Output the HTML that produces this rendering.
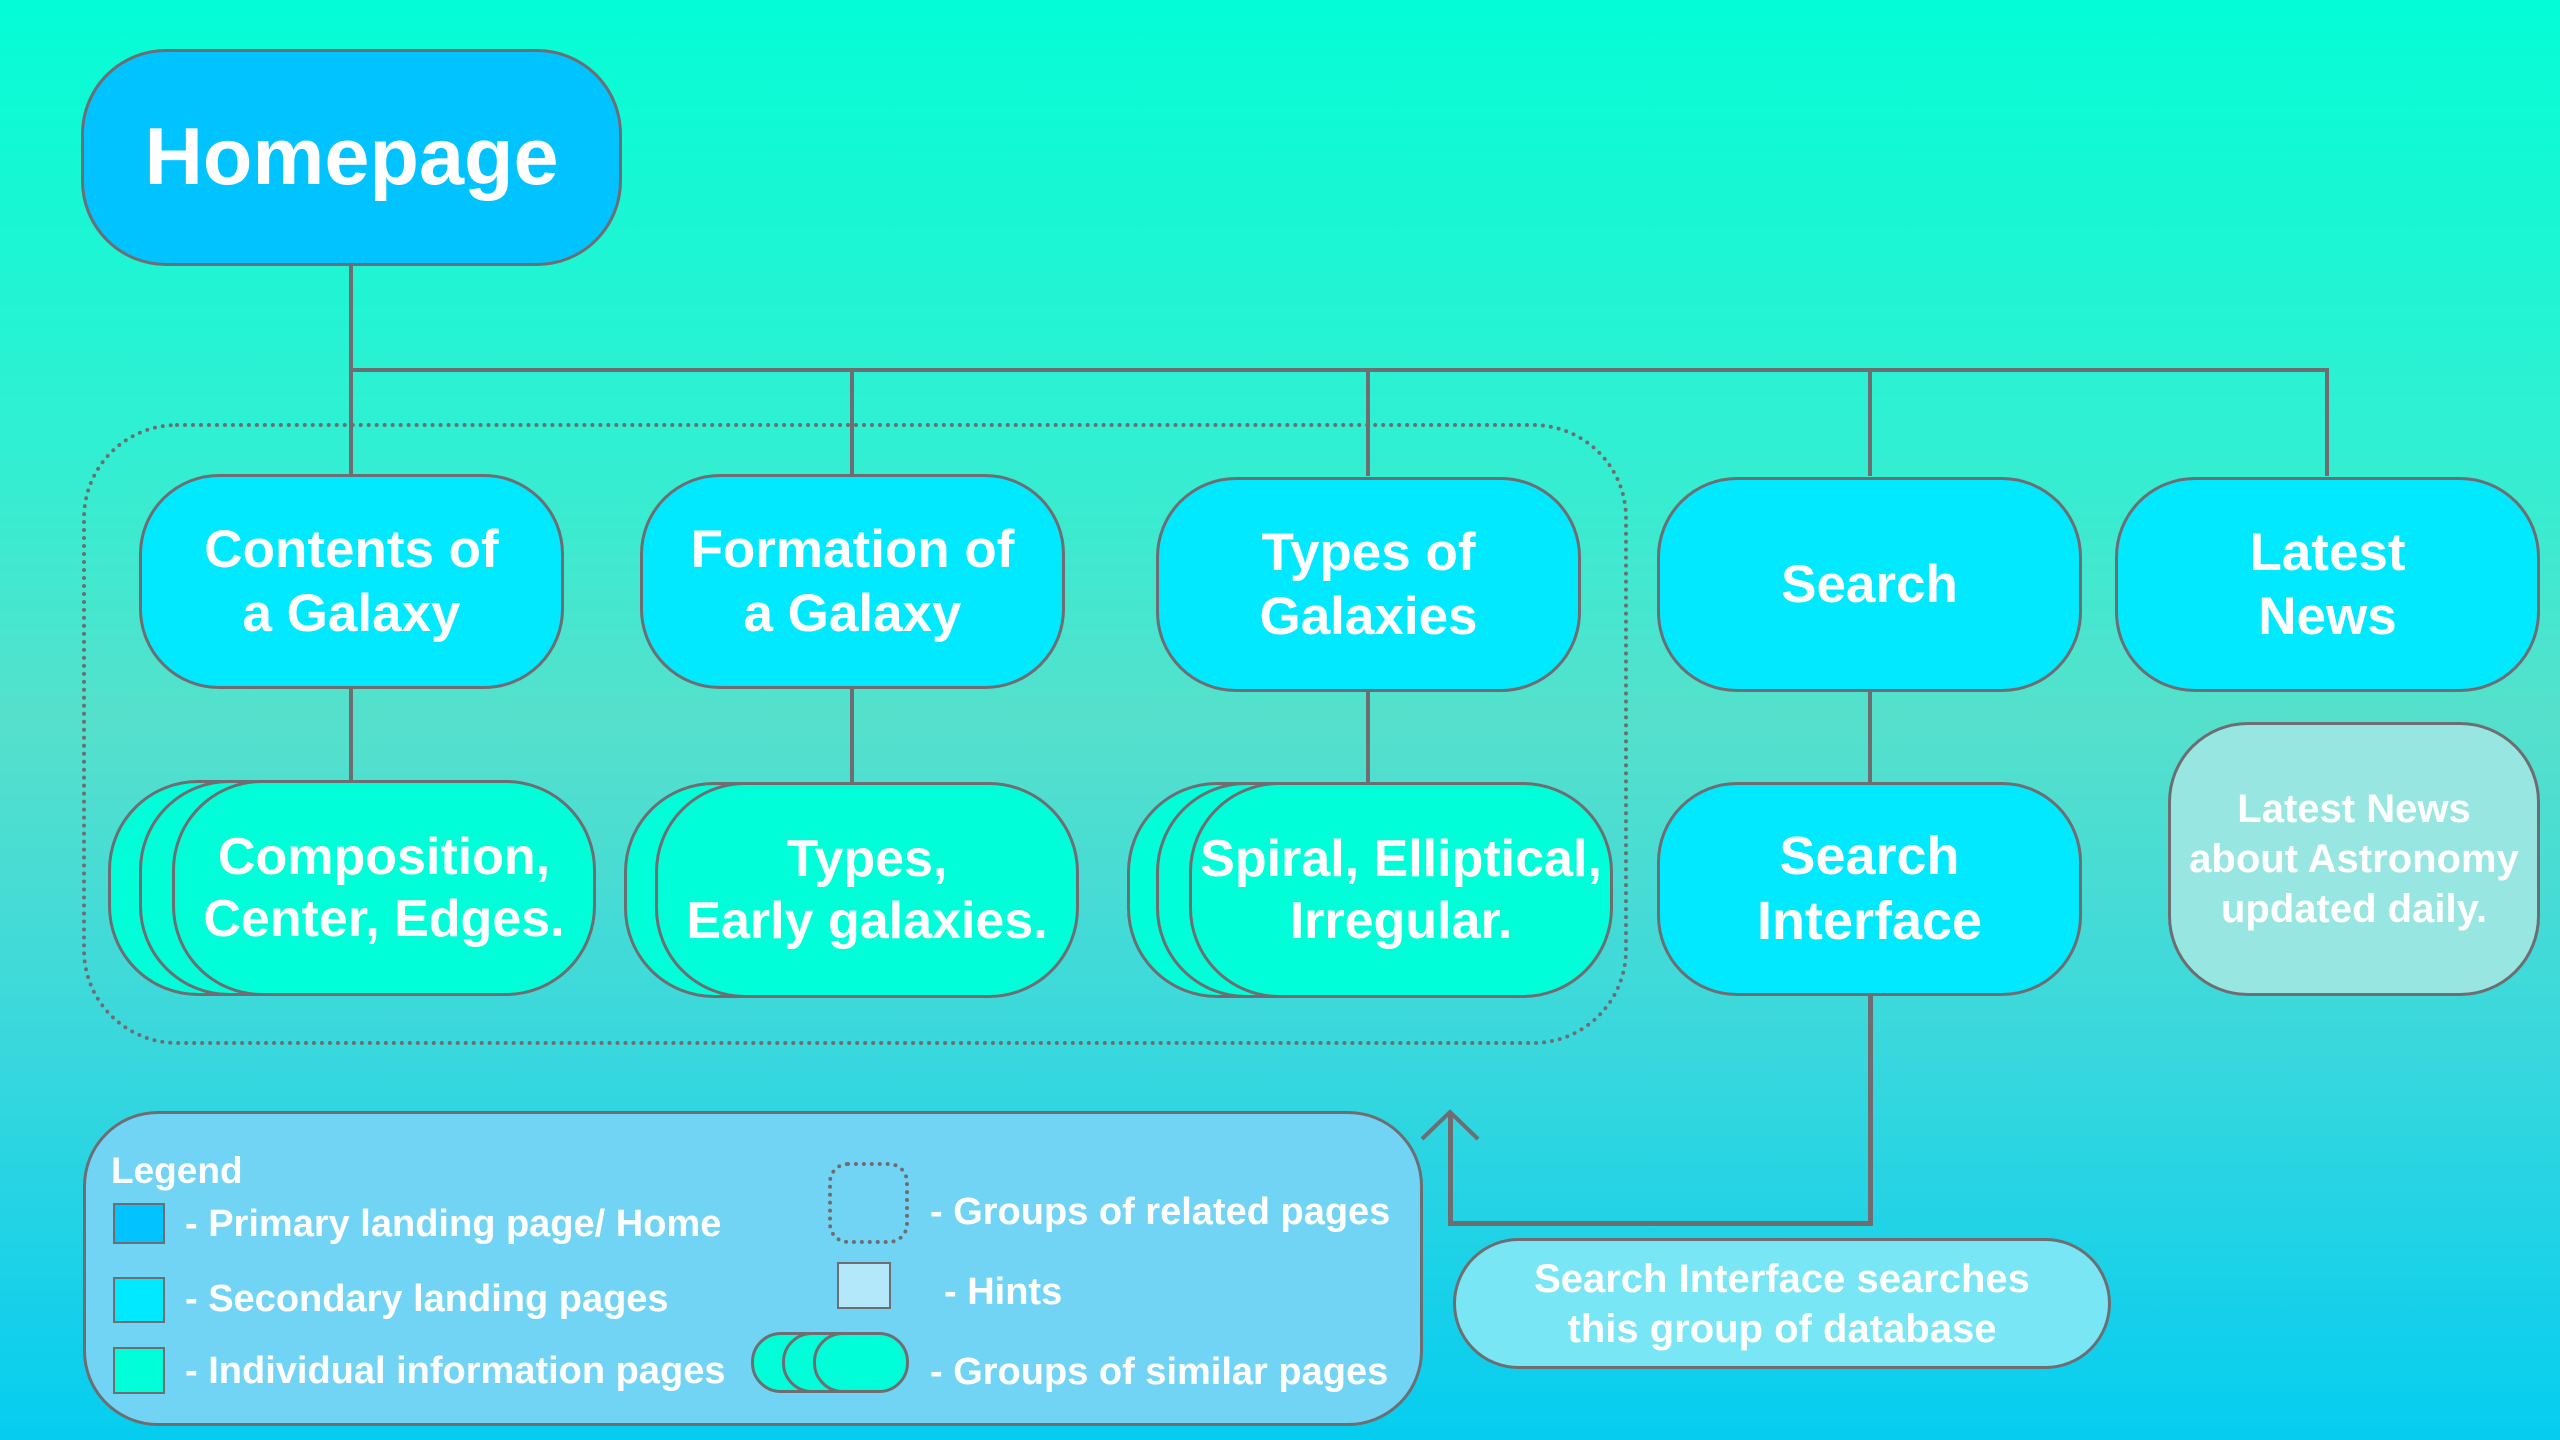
<!DOCTYPE html>
<html><head><meta charset="utf-8"><style>
*{margin:0;padding:0;box-sizing:border-box}
body{width:2560px;height:1440px;overflow:hidden;position:relative;font-family:"Liberation Sans",Arial,sans-serif;font-weight:bold;color:#fff;
background:linear-gradient(180deg,#04fdd6 0%,#2ff0d2 30%,#55e0cc 50%,#3ad8dc 72%,#05cdf0 100%)}
.b{position:absolute;display:flex;align-items:center;justify-content:center;text-align:center;border:3px solid #6e6e72;line-height:1.2}
.p{background:#00c3ff}
.s{background:#00e9ff;border-radius:80px;font-size:53px}
.t{background:#00ffd8;border-radius:90px;font-size:52px}
.l{position:absolute;background:#6e6e72}
.lt{position:absolute;font-size:38px;white-space:nowrap;line-height:1}
</style></head><body>
<div style="position:absolute;left:82px;top:423px;width:1546px;height:622px;border:4px dotted #6e6e72;border-radius:95px"></div>

<div class="l" style="left:349px;top:260px;width:4px;height:216px"></div>
<div class="l" style="left:349px;top:368px;width:1980px;height:4px"></div>
<div class="l" style="left:850px;top:368px;width:4px;height:108px"></div>
<div class="l" style="left:1366px;top:368px;width:4px;height:108px"></div>
<div class="l" style="left:1868px;top:368px;width:4px;height:108px"></div>
<div class="l" style="left:2325px;top:368px;width:4px;height:108px"></div>
<div class="l" style="left:349px;top:680px;width:4px;height:105px"></div>
<div class="l" style="left:850px;top:680px;width:4px;height:105px"></div>
<div class="l" style="left:1366px;top:680px;width:4px;height:105px"></div>
<div class="l" style="left:1868px;top:680px;width:4px;height:105px"></div>
<div class="l" style="left:1868px;top:990px;width:5px;height:235px"></div>
<div class="l" style="left:1448px;top:1221px;width:425px;height:5px"></div>
<div class="l" style="left:1448px;top:1114px;width:5px;height:110px"></div>
<svg style="position:absolute;left:0;top:0" width="2560" height="1440"><polyline points="1422,1139 1450,1112 1478,1139" fill="none" stroke="#6e6e72" stroke-width="4"/></svg>

<div class="b p" style="left:81px;top:49px;width:541px;height:217px;border-radius:85px;font-size:81px">Homepage</div>

<div class="b s" style="left:139px;top:474px;width:425px;height:215px">Contents of<br>a Galaxy</div>
<div class="b s" style="left:640px;top:474px;width:425px;height:215px">Formation of<br>a Galaxy</div>
<div class="b s" style="left:1156px;top:477px;width:425px;height:215px">Types of<br>Galaxies</div>
<div class="b s" style="left:1657px;top:477px;width:425px;height:215px">Search</div>
<div class="b s" style="left:2115px;top:477px;width:425px;height:215px">Latest<br>News</div>

<div class="b t" style="left:108px;top:780px;width:424px;height:216px"></div>
<div class="b t" style="left:139px;top:780px;width:424px;height:216px"></div>
<div class="b t" style="left:172px;top:780px;width:424px;height:216px">Composition,<br>Center, Edges.</div>
<div class="b t" style="left:624px;top:782px;width:424px;height:216px"></div>
<div class="b t" style="left:655px;top:782px;width:424px;height:216px">Types,<br>Early galaxies.</div>
<div class="b t" style="left:1127px;top:782px;width:424px;height:216px"></div>
<div class="b t" style="left:1156px;top:782px;width:424px;height:216px"></div>
<div class="b t" style="left:1189px;top:782px;width:424px;height:216px">Spiral, Elliptical,<br>Irregular.</div>
<div class="b s" style="left:1657px;top:782px;width:425px;height:214px;font-size:54px">Search<br>Interface</div>
<div class="b" style="left:2168px;top:722px;width:372px;height:274px;border-radius:80px;background:#98e6e2;font-size:40px;line-height:1.25">Latest News<br>about Astronomy<br>updated daily.</div>

<div class="b" style="left:1453px;top:1238px;width:658px;height:131px;border-radius:66px;background:#78e6f4;font-size:40px;line-height:1.25">Search Interface searches<br>this group of database</div>

<div style="position:absolute;left:83px;top:1111px;width:1340px;height:315px;border:3px solid #6e6e72;border-radius:75px;background:#72d4f5"></div>
<div class="lt" style="left:111px;top:1152px;font-size:37px">Legend</div>
<div style="position:absolute;left:113px;top:1203px;width:52px;height:41px;background:#00c3ff;border:2px solid #6e6e72"></div>
<div style="position:absolute;left:113px;top:1277px;width:52px;height:46px;background:#00e9ff;border:2px solid #6e6e72"></div>
<div style="position:absolute;left:113px;top:1347px;width:52px;height:47px;background:#00ffd8;border:2px solid #6e6e72"></div>
<div class="lt" style="left:185px;top:1205px">- Primary landing page/ Home</div>
<div class="lt" style="left:185px;top:1280px">- Secondary landing pages</div>
<div class="lt" style="left:185px;top:1352px">- Individual information pages</div>
<div style="position:absolute;left:828px;top:1162px;width:81px;height:82px;border:4px dotted #6e6e72;border-radius:20px"></div>
<div style="position:absolute;left:837px;top:1262px;width:54px;height:47px;background:#b3e8fa;border:2px solid #6e6e72"></div>
<div style="position:absolute;left:751px;top:1332px;width:96px;height:61px;background:#00ffd8;border:3px solid #6e6e72;border-radius:30px"></div>
<div style="position:absolute;left:782px;top:1332px;width:96px;height:61px;background:#00ffd8;border:3px solid #6e6e72;border-radius:30px"></div>
<div style="position:absolute;left:813px;top:1332px;width:96px;height:61px;background:#00ffd8;border:3px solid #6e6e72;border-radius:30px"></div>
<div class="lt" style="left:930px;top:1193px">- Groups of related pages</div>
<div class="lt" style="left:944px;top:1273px">- Hints</div>
<div class="lt" style="left:930px;top:1353px">- Groups of similar pages</div>
</body></html>
